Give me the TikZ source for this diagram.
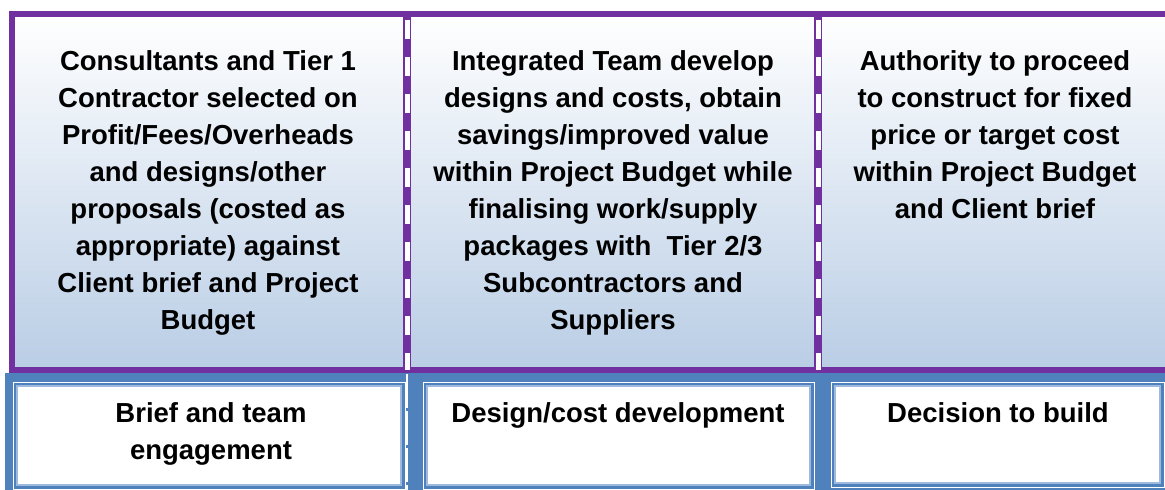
\documentclass[tikz,border=0pt]{standalone}
\usepackage{fontspec}
\setmainfont{Liberation Sans}
\definecolor{purp}{HTML}{7030A0}
\definecolor{bandblue}{HTML}{4F81BD}
\definecolor{lightblue}{HTML}{B9CDE5}
\definecolor{edgeblue}{HTML}{9DB9DD}
\tikzset{
  lbl/.style={anchor=north, inner sep=0pt, align=center, text=black,
    font=\fontsize{27.5}{37}\selectfont\bfseries},
  frameline/.style={draw=purp, line width=5.5pt},
  divpurp/.style={draw=purp, line width=8pt},
  divwhite/.style={draw=white, line width=5pt, dash pattern=on 19pt off 18pt, dash phase=31pt},
  boxouter/.style={draw=white, line width=0.9pt},
  boxinner/.style={fill=white, draw=edgeblue, line width=1.2pt},
}
\begin{document}
\begin{tikzpicture}[x=1pt,y=-1pt]
\useasboundingbox (0,0) rectangle (1165,490);
\fill[white] (0,0) rectangle (1165,490);
% bottom blue band
\fill[bandblue] (5,373) rectangle (1165,490);
% top panels gradient
\shade[top color=white, bottom color=lightblue] (12,14) rectangle (1165,370);
% purple frame
\draw[frameline] (1165,14) -- (12,14) -- (12,370) -- (1165,370);
% dividers
\draw[divpurp] (407,14) -- (407,372);
\draw[divwhite] (407,14) -- (407,370);
\draw[divpurp] (818,14) -- (818,372);
\draw[divwhite] (818,14) -- (818,370);
% bottom dashed white divider
\draw[white, line width=2pt, dash pattern=on 34pt off 3pt] (407,374) -- (407,490);
% bottom boxes
\draw[boxouter] (13,382) rectangle (405,489);
\draw[boxinner] (17,386) rectangle (401,485);
\draw[boxouter] (423,382) rectangle (814,489);
\draw[boxinner] (427,386) rectangle (810,485);
\draw[boxouter] (831,382) rectangle (1164,487);
\draw[boxinner] (835,386) rectangle (1160,483);
% texts
\node[lbl] (t1) at (208,50) {Consultants and Tier 1\\Contractor selected on\\Profit/Fees/Overheads\\and designs/other\\proposals (costed as\\appropriate) against\\Client brief and Project\\Budget};
\node[lbl] (t2) at (613,50) {Integrated Team develop\\designs and costs, obtain\\savings/improved value\\within Project Budget while\\finalising work/supply\\packages with~ Tier 2/3\\Subcontractors and\\Suppliers};
\node[lbl] (t3) at (995,50) {Authority to proceed\\to construct for fixed\\price or target cost\\within Project Budget\\and Client brief};
\node[lbl] (b1) at (211,402) {Brief and team\\engagement};
\node[lbl] (b2) at (618,402) {Design/cost development};
\node[lbl] (b3) at (998,402) {Decision to build};
\end{tikzpicture}
\end{document}
